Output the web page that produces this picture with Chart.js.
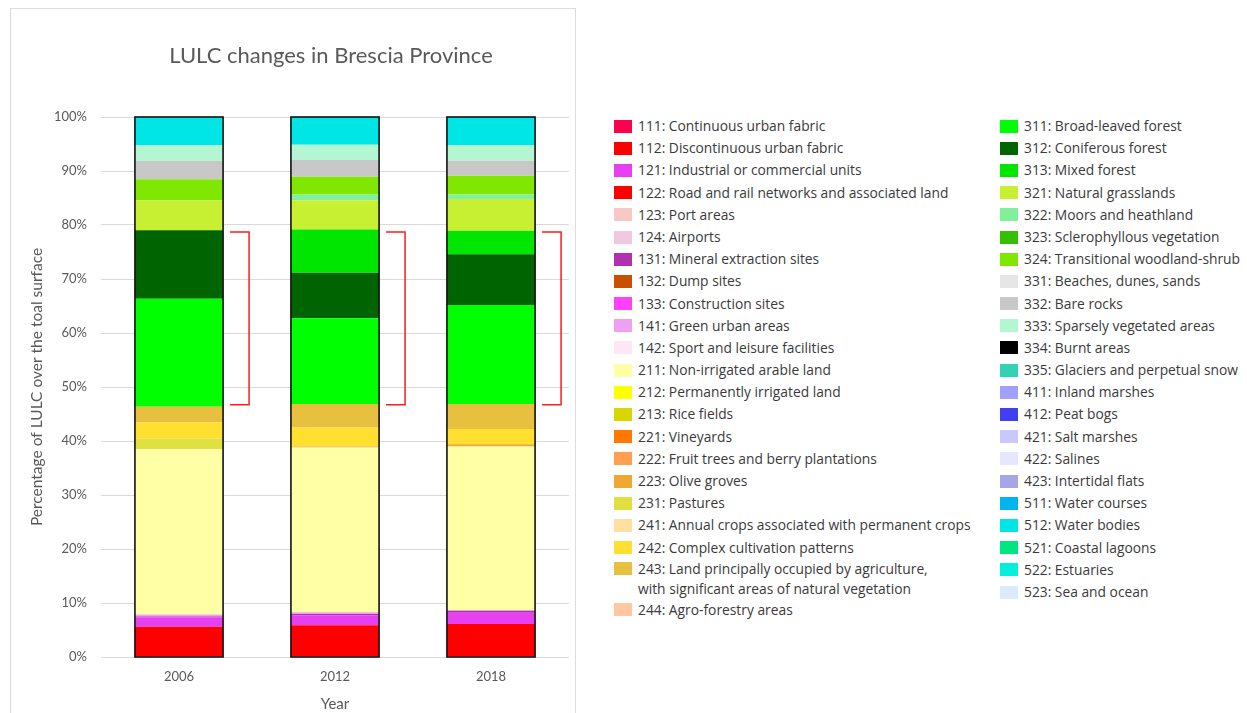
<!DOCTYPE html>
<html>
<head>
<meta charset="utf-8">
<script src="https://cdn.jsdelivr.net/npm/chart.js@4.4.1/dist/chart.umd.min.js"></script>
<style>
  html, body {
    margin: 0;
    padding: 0;
    background: #ffffff;
    width: 1247px;
    height: 713px;
    overflow: hidden;
  }
  .chart-box {
    position: absolute;
    left: 10px;
    top: 8px;
    width: 564px;
    height: 704px;
    border: 1px solid #dcdcdc;
  }
  .legend {
    position: absolute;
    top: 115px;
    font-family: "Open Sans", sans-serif;
    font-size: 13.8px;
    color: #3a3a3a;
  }
  .legend-row {
    display: flex;
    align-items: flex-start;
    height: 22.2px;
    line-height: 22.2px;
    white-space: nowrap;
  }
  .legend-row.tall {
    height: 40px;
    line-height: 20px;
  }
  .swatch {
    width: 18px;
    height: 13px;
    margin-top: 4.6px;
    margin-right: 6px;
    flex: none;
  }
  .legend-row.tall .swatch {
    margin-top: 3.5px;
  }
</style>
</head>
<body>
<div class="chart-box"><canvas id="barChart"></canvas></div>
<div class="legend" id="legendLeft" style="left: 614px;"></div>
<div class="legend" id="legendRight" style="left: 1000px;"></div>

<script>
const years = ["2006", "2012", "2018"];

const classCodes = [
  "111", "112", "121", "122", "123", "124", "131", "132", "133", "141", "142",
  "211", "212", "213", "221", "222", "223", "231", "241", "242", "243", "244",
  "311", "312", "313", "321", "322", "323", "324", "331", "332", "333", "334",
  "335", "411", "412", "421", "422", "423", "511", "512", "521", "522", "523",
];

const classNames = [
  "Continuous urban fabric",
  "Discontinuous urban fabric",
  "Industrial or commercial units",
  "Road and rail networks and associated land",
  "Port areas",
  "Airports",
  "Mineral extraction sites",
  "Dump sites",
  "Construction sites",
  "Green urban areas",
  "Sport and leisure facilities",
  "Non-irrigated arable land",
  "Permanently irrigated land",
  "Rice fields",
  "Vineyards",
  "Fruit trees and berry plantations",
  "Olive groves",
  "Pastures",
  "Annual crops associated with permanent crops",
  "Complex cultivation patterns",
  "Land principally occupied by agriculture,\nwith significant areas of natural vegetation",
  "Agro-forestry areas",
  "Broad-leaved forest",
  "Coniferous forest",
  "Mixed forest",
  "Natural grasslands",
  "Moors and heathland",
  "Sclerophyllous vegetation",
  "Transitional woodland-shrub",
  "Beaches, dunes, sands",
  "Bare rocks",
  "Sparsely vegetated areas",
  "Burnt areas",
  "Glaciers and perpetual snow",
  "Inland marshes",
  "Peat bogs",
  "Salt marshes",
  "Salines",
  "Intertidal flats",
  "Water courses",
  "Water bodies",
  "Coastal lagoons",
  "Estuaries",
  "Sea and ocean",
];

const classColors = [
  "#ff0050", "#ff0000", "#e640f0", "#ff0000", "#f7c8c8", "#f0c8e0", "#b030b0", "#c85000", "#ff40ff", "#f0a0f0", "#ffe6f5",
  "#ffffa6", "#ffff00", "#d8d800", "#ff7800", "#ffa050", "#f0a830", "#e0e040", "#ffe0a0", "#ffe030", "#e8c040", "#ffc8a0",
  "#00ff00", "#006400", "#00e600", "#c8f032", "#80f09a", "#33c000", "#80e800", "#e6e6e6", "#c8c8c8", "#b4f5d2", "#000000",
  "#33d2b4", "#a0a0ff", "#4040f0", "#c8c8ff", "#e6e6ff", "#a6a6e6", "#00b4f0", "#00e6e6", "#00e680", "#00f0dc", "#dceaff",
];

// % of provincial surface, same order as classCodes
const values2006 = [
  0, 5.6, 1.75, 0, 0, 0, 0.15, 0, 0, 0.35, 0,
  30.6, 0, 0, 0, 0, 0, 2.0, 0, 3.0, 2.9, 0,
  20.0, 12.7, 0, 5.5, 0, 0, 3.9, 0, 3.4, 2.9, 0,
  0, 0, 0, 0, 0, 0, 0, 5.2, 0, 0, 0,
];
const values2012 = [
  0, 5.9, 1.85, 0, 0, 0, 0.2, 0, 0, 0.35, 0,
  30.5, 0, 0, 0, 0, 0.2, 0, 0, 3.5, 4.35, 0,
  15.9, 8.4, 8.0, 5.45, 1.05, 0, 3.3, 0, 3.1, 2.8, 0,
  0, 0, 0, 0, 0, 0, 0, 5.2, 0, 0, 0,
];
const values2018 = [
  0, 6.1, 2.1, 0, 0, 0, 0.3, 0, 0, 0.2, 0,
  30.3, 0, 0, 0, 0, 0.4, 0, 0, 2.8, 4.65, 0,
  18.35, 9.4, 4.35, 5.85, 0.9, 0, 3.4, 0, 2.8, 2.9, 0,
  0, 0, 0, 0, 0, 0, 0, 5.2, 0, 0, 0,
];

// forest share brackets drawn next to each bar
const bracketTop = [78.7, 78.7, 78.7];
const bracketBottom = [46.7, 46.7, 46.7];

const yTicks = [0, 10, 20, 30, 40, 50, 60, 70, 80, 90, 100];

const chartTitle = "LULC changes in Brescia Province";

document.addEventListener("DOMContentLoaded", function () {
  initializeChart();
  buildLegend();
});

// title centred over the plot area, like the spreadsheet original
const plotTitle = {
  id: "plotTitle",
  afterDraw(chart) {
    const ctx = chart.ctx;
    const area = chart.chartArea;
    ctx.save();
    ctx.fillStyle = "#595959";
    ctx.font = "22px Lato";
    ctx.textAlign = "center";
    ctx.textBaseline = "middle";
    ctx.fillText(chartTitle, (area.left + area.right) / 2 - 4, 47);
    ctx.restore();
  },
};

const stackOutline = {
  id: "stackOutline",
  afterDatasetsDraw(chart) {
    const ctx = chart.ctx;
    const y = chart.scales.y;
    const meta = chart.getDatasetMeta(0);
    ctx.save();
    meta.data.forEach((bar, i) => {
      const half = bar.width / 2;
      const top = y.getPixelForValue(100);
      const bottom = y.getPixelForValue(0);
      ctx.strokeStyle = "#111111";
      ctx.lineWidth = 1.6;
      ctx.strokeRect(bar.x - half, top, half * 2, bottom - top);

      // red bracket around the forest classes
      const bx = bar.x + half + 7;
      const bTop = y.getPixelForValue(bracketTop[i]);
      const bBottom = y.getPixelForValue(bracketBottom[i]);
      ctx.strokeStyle = "#ff1a1a";
      ctx.lineWidth = 1.5;
      ctx.beginPath();
      ctx.moveTo(bx, bTop);
      ctx.lineTo(bx + 19, bTop);
      ctx.lineTo(bx + 19, bBottom);
      ctx.lineTo(bx, bBottom);
      ctx.stroke();
    });
    ctx.restore();
  },
};

function initializeChart() {
  const allValues = [values2006, values2012, values2018];
  const datasets = classCodes.map((code, k) => ({
    label: code + ": " + classNames[k],
    data: allValues.map((v) => v[k]),
    backgroundColor: classColors[k],
    borderWidth: 0,
    categoryPercentage: 1,
    barPercentage: 0.565,
  }));

  const ctx = document.getElementById("barChart").getContext("2d");
  new Chart(ctx, {
    type: "bar",
    data: {
      labels: years,
      datasets: datasets,
    },
    options: {
      responsive: true,
      maintainAspectRatio: false,
      animation: false,
      layout: {
        padding: { left: 0, right: 6, top: 108, bottom: 0 },
      },
      plugins: {
        legend: { display: false },
        tooltip: { enabled: false },
        title: { display: false },
      },
      scales: {
        x: {
          stacked: true,
          grid: { display: false, drawTicks: false },
          border: { display: false },
          ticks: {
            color: "#595959",
            font: { family: "Lato", size: 13 },
            padding: 12,
          },
          title: {
            display: true,
            text: "Year",
            color: "#595959",
            font: { family: "Lato", size: 15 },
            padding: { top: 4, bottom: 0 },
          },
          afterFit(scale) {
            scale.height = 56;
          },
        },
        y: {
          stacked: true,
          min: 0,
          max: 100,
          afterBuildTicks(scale) {
            scale.ticks = yTicks.map((v) => ({ value: v }));
          },
          grid: {
            color: "#d9d9d9",
            lineWidth: 1,
            drawTicks: false,
          },
          border: { display: false },
          ticks: {
            color: "#595959",
            font: { family: "Lato", size: 13 },
            padding: 14,
            callback: (v) => v + "%",
          },
          title: {
            display: true,
            text: "Percentage of LULC over the toal surface",
            color: "#595959",
            font: { family: "Lato", size: 15.5 },
            padding: { top: 17, bottom: 0 },
          },
          afterFit(scale) {
            scale.width = 90;
          },
        },
      },
    },
    plugins: [stackOutline, plotTitle],
  });
}

function buildLegend() {
  const left = document.getElementById("legendLeft");
  const right = document.getElementById("legendRight");
  classCodes.forEach((code, k) => {
    const row = document.createElement("div");
    row.className = "legend-row";
    const lines = classNames[k].split("\n");
    if (lines.length > 1) row.classList.add("tall");

    const swatch = document.createElement("span");
    swatch.className = "swatch";
    swatch.style.background = classColors[k];

    const text = document.createElement("span");
    text.innerHTML = code + ": " + lines.join("<br>");

    row.appendChild(swatch);
    row.appendChild(text);
    (code < "300" ? left : right).appendChild(row);
  });
}
</script>
</body>
</html>
